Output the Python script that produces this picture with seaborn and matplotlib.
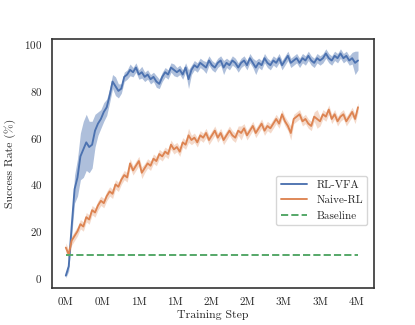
import numpy as np
import pandas as pd
import matplotlib
matplotlib.use('Agg')
import matplotlib.pyplot as plt
import seaborn as sns

sns.set_theme(style='white')
plt.rcParams['font.family'] = ['cmr10', 'DejaVu Serif']
plt.rcParams['mathtext.fontset'] = 'cm'
plt.rcParams['axes.formatter.use_mathtext'] = True

# evaluation grid (training steps)
n_points = 101
train_steps = np.linspace(0, 4.02e6, n_points)

# mean success rate
rl_vfa = [1, 5, 22, 38, 43, 52, 55, 58, 56, 57,
          63, 66, 68, 71, 73, 78, 84, 82, 80, 81,
          86, 87, 89, 88, 90, 87, 88, 86, 87, 85,
          86, 84, 83, 86, 88, 87, 90, 89, 88, 89,
          87, 90, 85, 89, 91, 90, 92, 91, 90, 93,
          91, 90, 92, 93, 90, 92, 91, 93, 92, 90,
          92, 93, 91, 94, 92, 90, 92, 91, 94, 92,
          91, 93, 92, 94, 91, 93, 95, 92, 93, 94,
          92, 94, 93, 95, 93, 92, 94, 93, 94, 96,
          94, 93, 95, 94, 96, 94, 95, 93, 94, 92,
          93]
rl_vfa_spread = [1, 2, 4, 6, 8, 10, 12, 12, 11, 10,
                 7, 5, 4, 4, 3.5, 3, 3, 4, 3, 2,
                 2, 2, 2.5, 2, 2, 2, 2.5, 2, 2, 2,
                 2, 2.5, 2, 2, 2, 2, 2, 2.5, 2, 2,
                 2, 2, 4, 2, 2, 2, 2, 2, 2.5, 2,
                 2, 2, 2, 2, 3, 2, 2, 2, 2, 2,
                 2, 2, 2, 2, 2, 3, 2, 2, 2, 2,
                 2, 2, 2, 2, 2, 2, 2, 2, 2, 2,
                 2, 2, 2, 2, 2, 2, 2, 2, 2, 2,
                 2, 2, 2, 2, 2, 2, 2, 2, 2.5, 5,
                 4]

naive_rl = [13, 10, 16, 18, 20, 23, 22, 26, 25, 29,
            28, 31, 33, 32, 35, 37, 36, 40, 39, 42,
            44, 43, 49, 46, 48, 50, 45, 47, 49, 48,
            51, 50, 53, 52, 54, 53, 57, 55, 56, 54,
            58, 57, 61, 59, 60, 58, 61, 60, 62, 59,
            61, 63, 60, 62, 59, 61, 63, 61, 60, 63,
            62, 64, 61, 63, 65, 62, 64, 66, 63, 65,
            64, 66, 68, 66, 70, 67, 65, 62, 68, 69,
            70, 67, 68, 66, 65, 69, 68, 67, 70, 69,
            72, 68, 70, 67, 69, 70, 67, 69, 71, 68,
            73]
naive_rl_spread = [2, 2, 2, 2, 2, 2, 2, 2, 2, 2,
                   2, 2, 2, 2, 2, 2, 2, 2, 2, 2,
                   2, 2, 2, 2, 2, 2, 2.5, 2, 2, 2,
                   2, 2, 2, 2, 2, 2, 2, 2, 2, 2,
                   2, 2, 3, 2, 2, 2, 2, 2, 2, 2,
                   2, 2, 2, 2, 2, 2, 2, 2, 2, 2,
                   3, 2, 2, 2, 2, 2, 2, 2, 2, 2,
                   2, 2, 2, 2, 2, 2, 2, 3, 2, 2,
                   2, 2, 2, 2, 2, 2, 4, 2, 2, 2,
                   2, 2, 2, 2, 2, 2, 2, 2, 2, 2,
                   2]

baseline_x = [0, 4.02e6]
baseline_y = [10, 10]

xtick_pos = [0, 0.5e6, 1e6, 1.5e6, 2e6, 2.5e6, 3e6, 3.5e6, 4e6]
xtick_labels = ['0M', '0M', '1M', '1M', '2M', '2M', '3M', '3M', '4M']
ytick_pos = [0, 20, 40, 60, 80, 100]

df = pd.DataFrame({
    'step': np.concatenate([train_steps, train_steps]),
    'success': rl_vfa + naive_rl,
    'method': ['RL-VFA'] * n_points + ['Naive-RL'] * n_points,
})

colors = sns.color_palette('deep')
blue, orange, green = colors[0], colors[1], colors[2]

fig = plt.figure(figsize=(4.15, 3.25), dpi=100)
ax = fig.add_axes([0.1253, 0.1138, 0.7759, 0.7662])

sns.lineplot(data=df, x='step', y='success', hue='method',
             palette={'RL-VFA': blue, 'Naive-RL': orange},
             linewidth=1.35, ax=ax)

ax.fill_between(train_steps, np.array(rl_vfa) - np.array(rl_vfa_spread),
                np.array(rl_vfa) + np.array(rl_vfa_spread),
                color=blue, alpha=0.45, linewidth=0)
ax.fill_between(train_steps, np.array(naive_rl) - np.array(naive_rl_spread),
                np.array(naive_rl) + np.array(naive_rl_spread),
                color=orange, alpha=0.3, linewidth=0)

ax.plot(baseline_x, baseline_y, linestyle='--', color=green, linewidth=1.4,
        label='Baseline')

ax.set_xlim(-0.19e6, 4.24e6)
ax.set_ylim(-4.3, 102.2)
ax.set_xticks(xtick_pos)
ax.set_xticklabels(xtick_labels)
ax.set_yticks(ytick_pos)
ax.tick_params(labelsize=8, length=0, pad=7)
ax.set_xlabel('Training Step', fontsize=8.5, labelpad=2)
ax.set_ylabel('Success Rate (%)', fontsize=8.5, labelpad=6)

for spine in ax.spines.values():
    spine.set_color('#333333')
    spine.set_linewidth(1.2)

handles, labels = ax.get_legend_handles_labels()
ax.legend(handles, labels, loc='lower right', bbox_to_anchor=(0.979, 0.253),
          borderaxespad=0, fontsize=8, frameon=True, handlelength=2.4)

fig.savefig('out.png', dpi=100)
